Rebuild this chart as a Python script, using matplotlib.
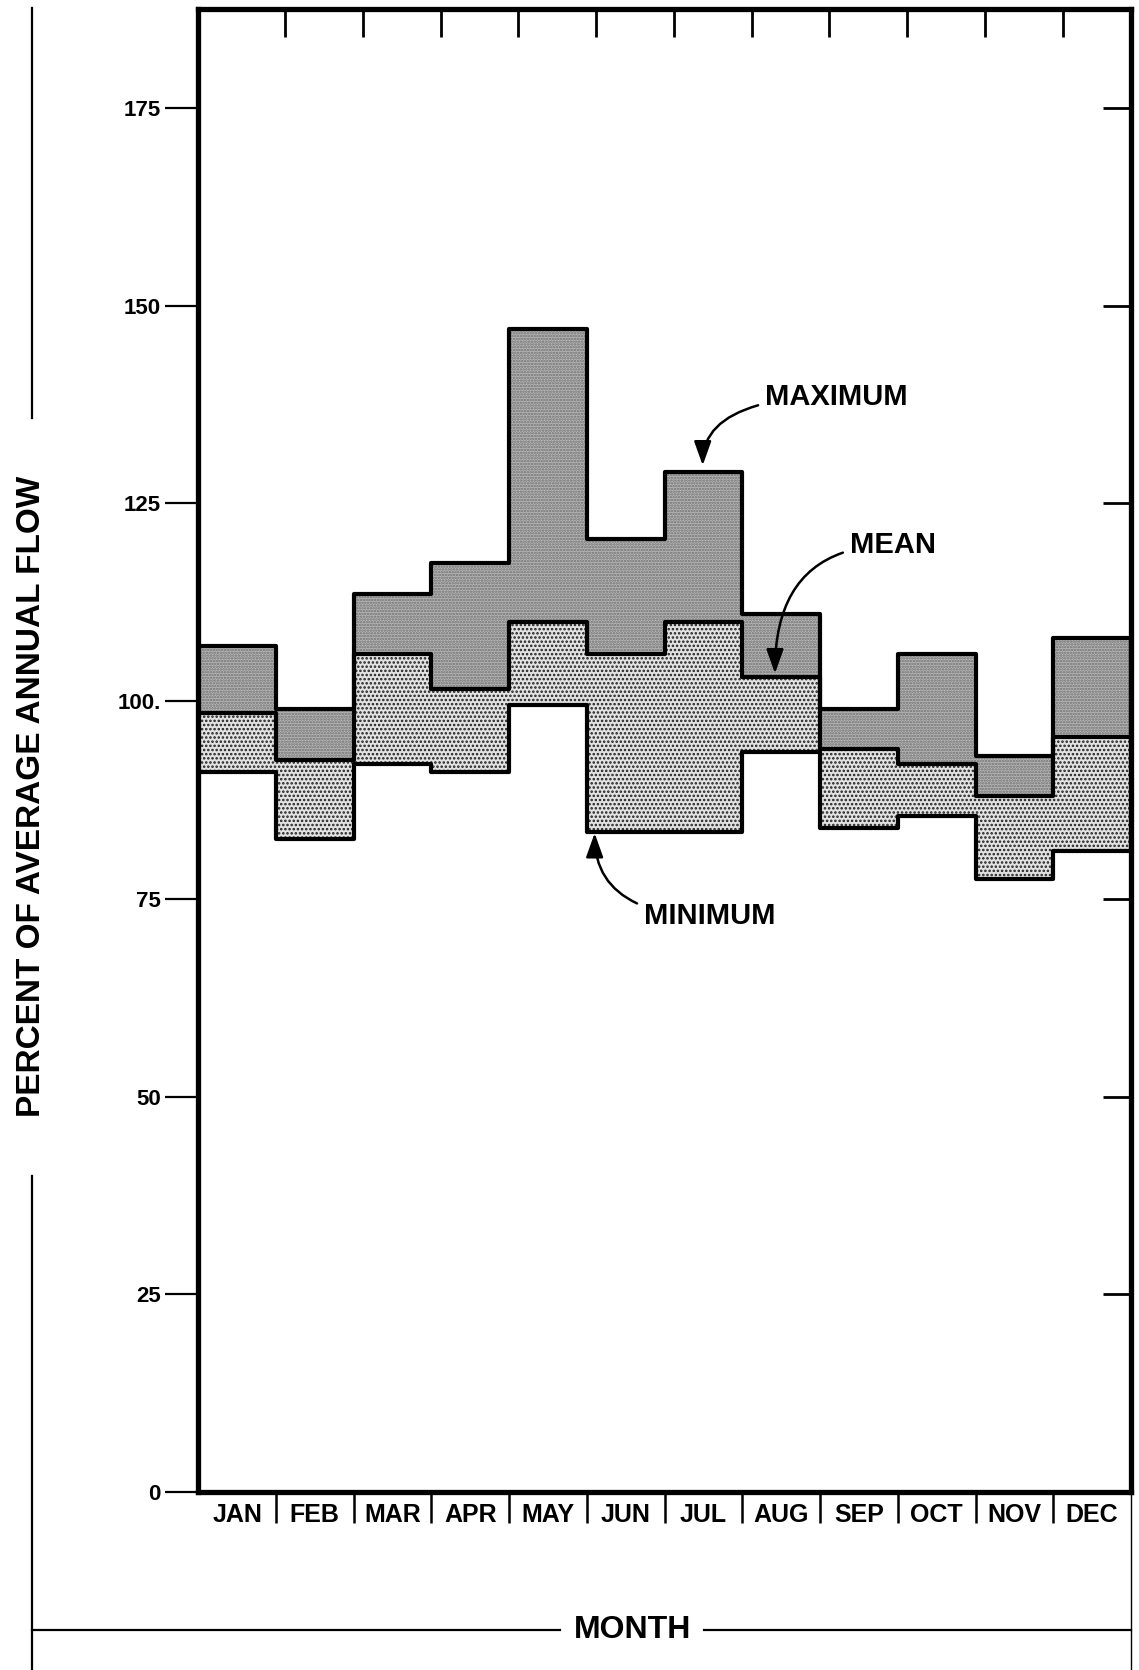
import matplotlib
matplotlib.use('Agg')
import matplotlib.pyplot as plt
from matplotlib.lines import Line2D
import numpy as np

# Dados (percent of average annual flow)
meses = ["JAN", "FEB", "MAR", "APR", "MAY", "JUN", "JUL", "AUG", "SEP", "OCT", "NOV", "DEC"]
maximo = [107, 99, 113.5, 117.5, 147, 120.5, 129, 111, 99, 106, 93, 108]
media = [98.5, 92.5, 106, 101.5, 110, 106, 110, 103, 94, 92, 88, 95.5]
minimo = [91, 82.5, 92, 91, 99.5, 83.5, 83.5, 93.5, 84, 85.5, 77.5, 81]
yticks = [0, 25, 50, 75, 100, 125, 150, 175]
ytick_labels = ["0", "25", "50", "75", "100.", "125", "150", "175"]

plt.rcParams['font.family'] = ['Liberation Sans', 'DejaVu Sans']
plt.rcParams['font.weight'] = 'bold'
plt.rcParams['hatch.linewidth'] = 1.2

fig = plt.figure(figsize=(11.39, 16.70), dpi=100)
ax = fig.add_axes([0.174, 0.1066, 0.819, 0.888])

x = np.arange(13)
mx = maximo + [maximo[-1]]
me = media + [media[-1]]
mn = minimo + [minimo[-1]]

# regiao entre maximo e media
ax.fill_between(x, me, mx, step='post', facecolor='#b8b8b8', edgecolor='#6e6e6e',
                hatch='......', linewidth=0)
# regiao entre media e minimo
ax.fill_between(x, mn, me, step='post', facecolor='#e2e2e2', edgecolor='#1e1e1e',
                hatch='....', linewidth=0)

for serie in (mx, me, mn):
    ax.step(x, serie, where='post', color='black', linewidth=3.0)
# bordas verticais nas pontas
ax.vlines([0, 12], [minimo[0], minimo[-1]], [maximo[0], maximo[-1]], color='black', linewidth=3.0)

ax.set_xlim(0, 12)
ax.set_ylim(0, 187.5)

for s in ax.spines.values():
    s.set_linewidth(3.8)

ax.set_yticks(yticks, labels=ytick_labels)
ax.tick_params(axis='y', direction='out', length=24, width=1.6, pad=3, labelsize=16)

ax.set_xticks(np.arange(12) + 0.5, labels=meses)
ax.set_xticks(np.arange(1, 12), minor=True)
ax.tick_params(axis='x', which='major', length=0, pad=8, labelsize=18)
ax.tick_params(axis='x', which='minor', direction='out', length=22, width=1.8)

# marcas internas em cima e na direita
top = ax.secondary_xaxis('top')
top.set_xticks(np.arange(1, 12) + 0.12)
top.tick_params(direction='in', length=20, width=2.0, labeltop=False)
top.spines['top'].set_visible(False)

right = ax.secondary_yaxis('right')
right.set_yticks(yticks[1:])
right.tick_params(direction='in', length=20, width=2.0, labelright=False)
right.spines['right'].set_visible(False)

# anotacoes
seta = dict(arrowstyle='-|>,head_length=0.7,head_width=0.25', color='black', lw=1.8,
            connectionstyle='angle3,angleA=0,angleB=90', shrinkA=3, shrinkB=0)
ax.annotate("MAXIMUM", xy=(6.49, 129.8), xytext=(7.29, 138.5), fontsize=21,
            ha='left', va='center', arrowprops=seta)
ax.annotate("MEAN", xy=(7.42, 103.5), xytext=(8.38, 119.7), fontsize=21,
            ha='left', va='center', arrowprops=seta)
ax.annotate("MINIMUM", xy=(5.1, 83.3), xytext=(5.73, 72.8), fontsize=21,
            ha='left', va='center', arrowprops=seta)

# rotulos com linhas de moldura
fig.text(0.028, 0.523, "PERCENT OF AVERAGE ANNUAL FLOW", rotation=90, ha='center',
         va='center', fontsize=24)
fig.add_artist(Line2D([0.028, 0.028], [0.995, 0.75], color='black', lw=1.6, transform=fig.transFigure))
fig.add_artist(Line2D([0.028, 0.028], [0.296, 0.0], color='black', lw=1.6, transform=fig.transFigure))

fig.text(0.555, 0.024, "MONTH", ha='center', va='center', fontsize=23)
fig.add_artist(Line2D([0.028, 0.492], [0.024, 0.024], color='black', lw=1.6, transform=fig.transFigure))
fig.add_artist(Line2D([0.618, 0.993], [0.024, 0.024], color='black', lw=1.6, transform=fig.transFigure))
fig.add_artist(Line2D([0.993, 0.993], [0.1066, 0.0], color='black', lw=1.0, transform=fig.transFigure))

plt.savefig('out.png', dpi=100)
plt.close('all')
